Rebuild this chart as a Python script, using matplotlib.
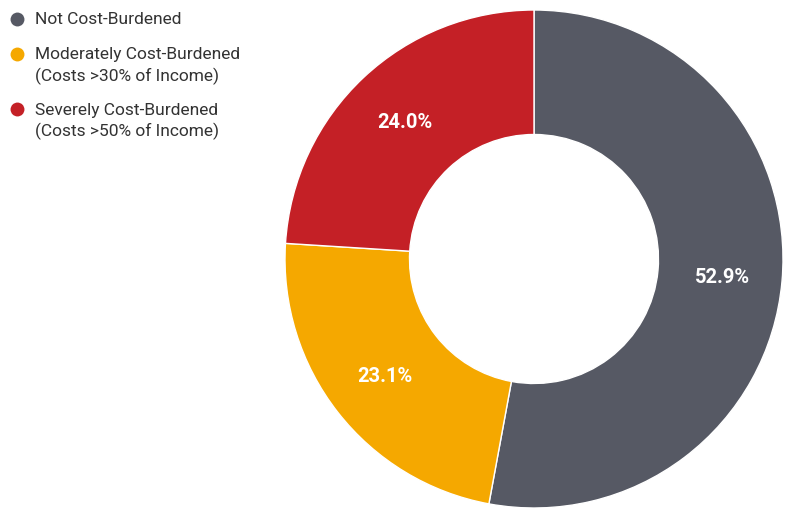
import matplotlib
matplotlib.use("Agg")
import matplotlib.pyplot as plt

plt.rcParams['font.family'] = ['Roboto', 'DejaVu Sans']

categories = ["Not Cost-Burdened",
              "Moderately Cost-Burdened\n(Costs >30% of Income)",
              "Severely Cost-Burdened\n(Costs >50% of Income)"]
shares = [52.9, 23.1, 24.0]
colors = ["#565964", "#F5A800", "#C42026"]

W, H = 789, 510
fig = plt.figure(figsize=(W / 100, H / 100), dpi=100)
ax = fig.add_axes([0, 0, 1, 1])
ax.set_xlim(0, W)
ax.set_ylim(0, H)
ax.set_aspect('equal')
ax.axis('off')

R = 249
wedges, texts, autotexts = ax.pie(
    shares, colors=colors, startangle=90, counterclock=False,
    center=(534, H - 260), radius=R,
    wedgeprops=dict(width=R * 0.5, edgecolor='white', linewidth=1.0),
    autopct=lambda p: f"{p:.1f}%", pctdistance=0.76,
    textprops=dict(color='white', fontsize=14.5, fontweight='bold'))
ax.set_xlim(0, W)
ax.set_ylim(0, H)

# legend drawn as circle markers with labels, one text per line
legend_y = [20, 55, 110]
line_gap = 21
for y, label, c in zip(legend_y, categories, colors):
    ax.scatter([17], [H - y], s=100, color=c, zorder=5, linewidths=0)
    for i, line in enumerate(label.split("\n")):
        ax.text(35, H - y - i * line_gap, line, fontsize=12.5,
                color='#333333', va='center', ha='left')

fig.savefig("out.png", dpi=100)
